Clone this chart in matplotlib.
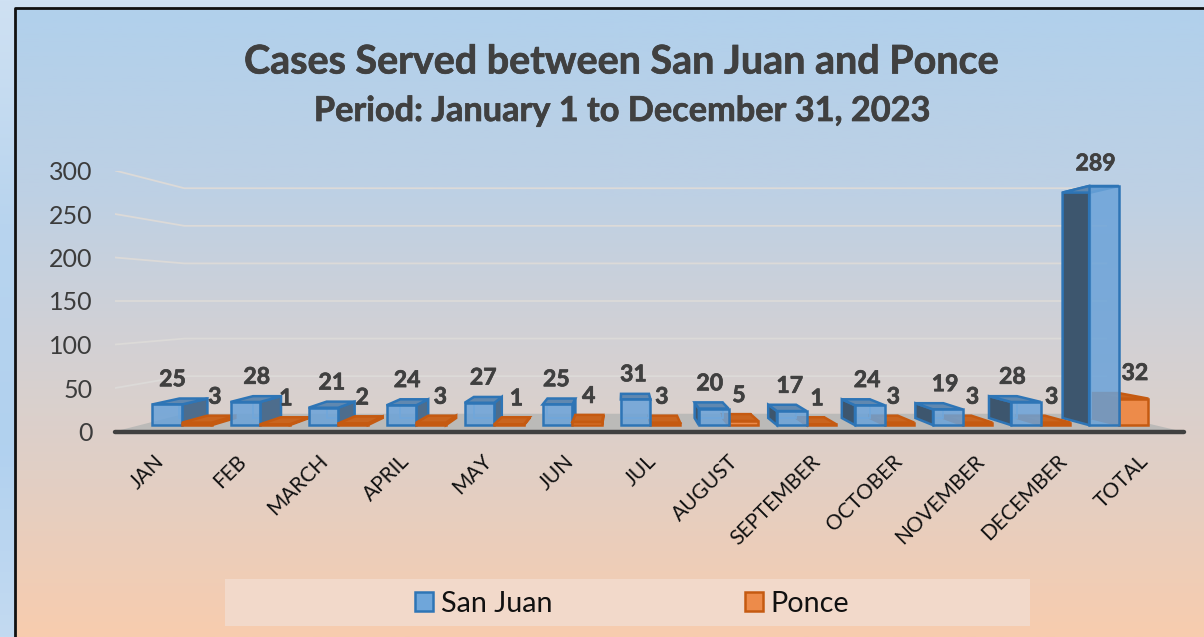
import matplotlib
matplotlib.use("Agg")
import matplotlib.pyplot as plt
import matplotlib.patheffects as pe
import numpy as np
from matplotlib.colors import LinearSegmentedColormap
from matplotlib.patches import Patch, Polygon, Rectangle

plt.rcParams['font.family'] = ['Lato', 'DejaVu Sans']

categories = ['JAN', 'FEB', 'MARCH', 'APRIL', 'MAY', 'JUN', 'JUL', 'AUGUST',
              'SEPTEMBER', 'OCTOBER', 'NOVEMBER', 'DECEMBER', 'TOTAL']
san_juan = [25, 28, 21, 24, 27, 25, 31, 20, 17, 24, 19, 28, 289]
ponce = [3, 1, 2, 3, 1, 4, 3, 5, 1, 3, 3, 3, 32]
y_ticks = [0, 50, 100, 150, 200, 250, 300]

W, H = 1204, 637
TEXT = '#404040'

# perspective of the fake 3D box
XC, YC = 6.21, 150
SHRINK = 0.136
D_FRONT, D_BACK = 0.36, 0.76
BAR_W = 0.38
BAR_GAP = 0.16

# label nudges in pixels, the chart places these by hand
blue_dx = [0, 7, 5, 3, 2, -2, -2, -3, 0, 0, 1, -9, -3]
orange_dx = [13, 7, 6, 7, 6, 1, -3, -3, -2, -3, -1, 1, 7]

heavy = [pe.withStroke(linewidth=0.5, foreground=TEXT)]


def proj(x, v, d):
    s = 1 - d * SHRINK
    return XC + (x - XC) * s, YC + (v - YC) * s


fig = plt.figure(figsize=(W / 100, H / 100), dpi=100)

# background: page strip, gradient panel, border, legend band
bg = fig.add_axes([0, 0, 1, 1])
bg.set_xlim(0, W)
bg.set_ylim(H, 0)
bg.axis('off')
strip = LinearSegmentedColormap.from_list(
    'strip', [(0, '#cfe1f3'), (0.35, '#b8d4ee'), (0.7, '#b1d1ef'), (1, '#c3daf1')])
bg.imshow(np.linspace(0, 1, 256).reshape(-1, 1), cmap=strip, extent=(0, W, H, 0), aspect='auto')
panel = LinearSegmentedColormap.from_list(
    'panel', [(0, '#b1d0ec'), (0.3, '#bed0e4'), (0.55, '#d4d1d3'), (0.75, '#e2cfc4'), (1, '#f8ccae')])
bg.imshow(np.linspace(0, 1, 256).reshape(-1, 1), cmap=panel, extent=(16, W, H, 8), aspect='auto')
bg.set_xlim(0, W)
bg.set_ylim(H, 0)
bg.plot([15, 15, W], [H, 8, 8], color='#111111', lw=2)
bg.add_patch(Rectangle((225, 579), 805, 47, fc='#f2d9ca', ec='none'))
bg.text(621, 62, 'Cases Served between San Juan and Ponce', ha='center', va='center',
        fontsize=28.4, fontweight='bold', color=TEXT, path_effects=heavy)
bg.text(622, 111, 'Period: January 1 to December 31, 2023', ha='center', va='center',
        fontsize=24.7, fontweight='bold', color=TEXT, path_effects=heavy)

# front plane of the plot box
ax = fig.add_axes([115 / W, 1 - 431.5 / H, 1067 / W, 261 / H])
ax.set_xlim(0, 13)
ax.set_ylim(0, 300)
ax.patch.set_visible(False)
for sp in ax.spines.values():
    sp.set_visible(False)
ax.set_yticks(y_ticks)
ax.set_yticklabels([str(t) for t in y_ticks], fontsize=18, color='#3c3c3c')
ax.set_xticks(np.arange(len(categories)) + 0.47)
ax.set_xticklabels(categories, fontsize=15, color='#111111', rotation=45, ha='right',
                   rotation_mode='anchor')
ax.tick_params(axis='y', length=0, pad=16)
ax.tick_params(axis='x', length=0, pad=14)

# floor and gridlines
floor = [proj(0, 0, 0), proj(13, 0, 0), proj(13, 0, 1), proj(0, 0, 1)]
ax.add_patch(Polygon(floor, closed=True, fc='#bbbab8', ec='none', zorder=1))
for t in y_ticks[1:]:
    pts = np.array([proj(0, t, 0), proj(0, t, 1), proj(13, t, 1)])
    ax.plot(pts[:, 0], pts[:, 1], color='#dcdad8', lw=1.3, zorder=1.5)
ax.plot([0, 13.03], [0, 0], color=TEXT, lw=3.2, solid_capstyle='round', zorder=1.6, clip_on=False)


def draw_bar(x0, val, front, side_r, side_l, top, edge, inner, z):
    x1 = x0 + BAR_W
    # back outline, shows through the see-through front
    pts = [proj(x0, 0, D_BACK), proj(x1, 0, D_BACK), proj(x1, val, D_BACK), proj(x0, val, D_BACK)]
    ax.add_patch(Polygon(pts, closed=True, fc='none', ec=inner, lw=1.2, zorder=z, clip_on=False))
    if x0 > XC:
        pts = [proj(x0, 0, D_FRONT), proj(x0, val, D_FRONT), proj(x0, val, D_BACK), proj(x0, 0, D_BACK)]
        ax.add_patch(Polygon(pts, closed=True, fc=side_l, ec=edge, lw=1.8, zorder=z, clip_on=False))
    elif x1 < XC:
        pts = [proj(x1, 0, D_FRONT), proj(x1, val, D_FRONT), proj(x1, val, D_BACK), proj(x1, 0, D_BACK)]
        ax.add_patch(Polygon(pts, closed=True, fc=side_r, ec=edge, lw=1.8, zorder=z, clip_on=False))
    pts = [proj(x0, val, D_FRONT), proj(x1, val, D_FRONT), proj(x1, val, D_BACK), proj(x0, val, D_BACK)]
    ax.add_patch(Polygon(pts, closed=True, fc=top, ec=edge, lw=1.8, zorder=z + 0.001, clip_on=False))
    pts = [proj(x0, 0, D_FRONT), proj(x1, 0, D_FRONT), proj(x1, val, D_FRONT), proj(x0, val, D_FRONT)]
    ax.add_patch(Polygon(pts, closed=True, fc=front, ec=edge, lw=1.8, zorder=z + 0.002, clip_on=False))


bars = []
for i in range(len(categories)):
    bars.append((i + BAR_GAP, san_juan[i], 'blue'))
    bars.append((i + BAR_GAP + BAR_W, ponce[i], 'orange'))
# paint from the outside towards the vanishing point
bars.sort(key=lambda b: -abs(b[0] + BAR_W / 2 - XC))
for n, (x0, val, kind) in enumerate(bars):
    z = 2 + n * 0.01
    if kind == 'blue':
        draw_bar(x0, val, (0.42, 0.64, 0.85, 0.85), '#4d6d8d', '#3d566e', '#6088b0', '#2e75b6', '#8dbbe6', z)
    else:
        draw_bar(x0, val, '#ed8b4a', '#c55a11', '#c55a11', '#c9651f', '#c55a11', '#c55a11', z)

# data labels
for i in range(len(categories)):
    x0 = i + BAR_GAP
    lx, ly = proj(x0 + BAR_W / 2, san_juan[i], 0.44)
    ax.annotate(str(san_juan[i]), (lx, ly), xytext=(blue_dx[i] * 0.72, 23.5 * 0.72), textcoords='offset points',
                ha='center', va='center', fontsize=16.6, fontweight='bold', color=TEXT,
                annotation_clip=False, zorder=10, path_effects=heavy)
    lx, ly = proj(x0 + BAR_W * 1.5, ponce[i], 0.44)
    ax.annotate(str(ponce[i]), (lx, ly), xytext=(orange_dx[i] * 0.72, 24 * 0.72), textcoords='offset points',
                ha='center', va='center', fontsize=16.6, fontweight='bold', color=TEXT,
                annotation_clip=False, zorder=10, path_effects=heavy)

handles = [Patch(fc='#6fa6da', ec='#2e75b6', lw=1.8), Patch(fc='#ed8b4a', ec='#c55a11', lw=1.8)]
ax.legend(handles, ['San Juan', 'Ponce'], loc='center', bbox_to_anchor=(632 / W, 1 - 603.5 / H),
          bbox_transform=fig.transFigure, ncol=2, frameon=False, fontsize=20.7, labelcolor='#111111',
          handlelength=0.62, handleheight=0.66, handletextpad=0.28, columnspacing=6.7)

fig.savefig('out.png', dpi=100)
